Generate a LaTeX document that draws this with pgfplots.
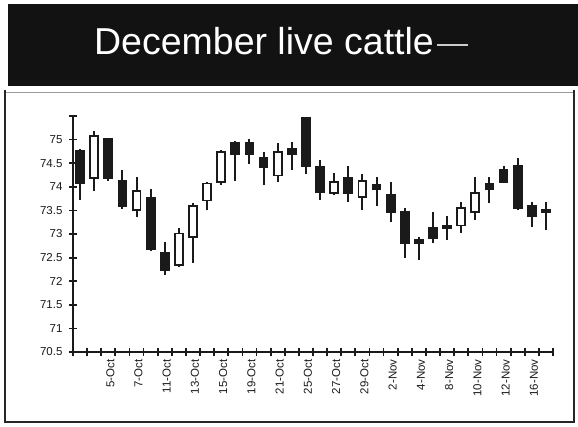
\documentclass[border=0pt]{standalone}
\usepackage{pgfplots}
\pgfplotsset{compat=1.18}
\usepackage{fontspec}
\setmainfont{Liberation Sans}
\definecolor{ink}{HTML}{1A1A1A}
\begin{document}
\begin{tikzpicture}[x=1pt,y=1pt]
\useasboundingbox (0,0) rectangle (578,426);
\fill[white] (0,0) rectangle (578,426);
\fill[black!93] (8,340) rectangle (578,422);
\node[white, font=\fontsize{37.5}{40}\selectfont, anchor=base] at (264,371) {December live cattle};
\draw[white!80!black, line width=2pt] (437,381) -- (468,381);
\draw[black!40, line width=0.8pt] (5,334) -- (574,334);
\draw[black!85, line width=2.2pt] (5,336) -- (5,4) -- (574,4) -- (574,336);
\begin{axis}[
  at={(73pt,74pt)}, anchor=south west,
  scale only axis, width=480pt, height=236pt,
  xmin=0.5, xmax=34.5, ymin=70.5, ymax=75.5,
  clip=false,
  axis x line*=bottom, axis y line*=left,
  axis line style={line width=2.4pt, ink},
  tick align=center, major tick length=8pt,
  tick style={line width=1.8pt, ink},
  xtick={0.5,1.5,...,34.5}, xticklabels={},
  extra x ticks={3,5,...,33},
  extra x tick labels={5-Oct,7-Oct,11-Oct,13-Oct,15-Oct,19-Oct,21-Oct,25-Oct,27-Oct,29-Oct,2-Nov,4-Nov,8-Nov,10-Nov,12-Nov,16-Nov},
  extra x tick style={tick style={draw=none}},
  xticklabel style={rotate=90, anchor=east, font=\fontsize{11.5}{13}\selectfont, text=ink, yshift=-2pt},
  ytick={70.5,71,71.5,72,72.5,73,73.5,74,74.5,75,75.5},
  yticklabels={70.5,71,71.5,72,72.5,73,73.5,74,74.5,75,{}},
  yticklabel style={font=\fontsize{11.5}{13}\selectfont, text=ink, xshift=-3pt},
  wick/.style={ink, line width=2pt, mark=none},
  dk/.style={draw=ink, fill=ink, line width=1.9pt, mark=none},
  hl/.style={draw=ink, fill=white, line width=1.9pt, mark=none},
]
% candle 1..34: wick (low..high), then body (min(open,close)..max(open,close)); dk = close<open, hl = close>open
\addplot[wick] coordinates {(1,73.71) (1,74.81)};
\addplot[dk] coordinates {(0.72,74.07) (1.28,74.07) (1.28,74.77) (0.72,74.77)} -- cycle;
\addplot[wick] coordinates {(2,73.92) (2,75.19)};
\addplot[hl] coordinates {(1.72,74.18) (2.28,74.18) (2.28,75.08) (1.72,75.08)} -- cycle;
\addplot[wick] coordinates {(3,74.13) (3,75.02)};
\addplot[dk] coordinates {(2.72,74.18) (3.28,74.18) (3.28,75.02) (2.72,75.02)} -- cycle;
\addplot[wick] coordinates {(4,73.54) (4,74.35)};
\addplot[dk] coordinates {(3.72,73.60) (4.28,73.60) (4.28,74.13) (3.72,74.13)} -- cycle;
\addplot[wick] coordinates {(5,73.35) (5,74.20)};
\addplot[hl] coordinates {(4.72,73.50) (5.28,73.50) (5.28,73.92) (4.72,73.92)} -- cycle;
\addplot[wick] coordinates {(6,72.65) (6,73.96)};
\addplot[dk] coordinates {(5.72,72.69) (6.28,72.69) (6.28,73.77) (5.72,73.77)} -- cycle;
\addplot[wick] coordinates {(7,72.13) (7,72.83)};
\addplot[dk] coordinates {(6.72,72.23) (7.28,72.23) (7.28,72.59) (6.72,72.59)} -- cycle;
\addplot[wick] coordinates {(8,72.30) (8,73.12)};
\addplot[hl] coordinates {(7.72,72.34) (8.28,72.34) (8.28,73.01) (7.72,73.01)} -- cycle;
\addplot[wick] coordinates {(9,72.38) (9,73.65)};
\addplot[hl] coordinates {(8.72,72.93) (9.28,72.93) (9.28,73.60) (8.72,73.60)} -- cycle;
\addplot[wick] coordinates {(10,73.50) (10,74.10)};
\addplot[hl] coordinates {(9.72,73.71) (10.28,73.71) (10.28,74.07) (9.72,74.07)} -- cycle;
\addplot[wick] coordinates {(11,74.03) (11,74.77)};
\addplot[hl] coordinates {(10.72,74.10) (11.28,74.10) (11.28,74.73) (10.72,74.73)} -- cycle;
\addplot[wick] coordinates {(12,74.13) (12,74.98)};
\addplot[dk] coordinates {(11.72,74.70) (12.28,74.70) (12.28,74.92) (11.72,74.92)} -- cycle;
\addplot[wick] coordinates {(13,74.49) (13,75.02)};
\addplot[dk] coordinates {(12.72,74.70) (13.28,74.70) (13.28,74.92) (12.72,74.92)} -- cycle;
\addplot[wick] coordinates {(14,74.03) (14,74.73)};
\addplot[dk] coordinates {(13.72,74.41) (14.28,74.41) (14.28,74.62) (13.72,74.62)} -- cycle;
\addplot[wick] coordinates {(15,74.10) (15,74.92)};
\addplot[hl] coordinates {(14.72,74.24) (15.28,74.24) (15.28,74.73) (14.72,74.73)} -- cycle;
\addplot[wick] coordinates {(16,74.35) (16,74.94)};
\addplot[dk] coordinates {(15.72,74.70) (16.28,74.70) (16.28,74.81) (15.72,74.81)} -- cycle;
\addplot[wick] coordinates {(17,74.28) (17,75.46)};
\addplot[dk] coordinates {(16.72,74.45) (17.28,74.45) (17.28,75.46) (16.72,75.46)} -- cycle;
\addplot[wick] coordinates {(18,73.71) (18,74.56)};
\addplot[dk] coordinates {(17.72,73.88) (18.28,73.88) (18.28,74.41) (17.72,74.41)} -- cycle;
\addplot[wick] coordinates {(19,73.82) (19,74.30)};
\addplot[hl] coordinates {(18.72,73.86) (19.28,73.86) (19.28,74.10) (18.72,74.10)} -- cycle;
\addplot[wick] coordinates {(20,73.67) (20,74.45)};
\addplot[dk] coordinates {(19.72,73.86) (20.28,73.86) (20.28,74.18) (19.72,74.18)} -- cycle;
\addplot[wick] coordinates {(21,73.50) (21,74.28)};
\addplot[hl] coordinates {(20.72,73.78) (21.28,73.78) (21.28,74.13) (20.72,74.13)} -- cycle;
\addplot[wick] coordinates {(22,73.60) (22,74.20)};
\addplot[dk] coordinates {(21.72,73.96) (22.28,73.96) (22.28,74.03) (21.72,74.03)} -- cycle;
\addplot[wick] coordinates {(23,73.25) (23,74.10)};
\addplot[dk] coordinates {(22.72,73.46) (23.28,73.46) (23.28,73.82) (22.72,73.82)} -- cycle;
\addplot[wick] coordinates {(24,72.49) (24,73.56)};
\addplot[dk] coordinates {(23.72,72.80) (24.28,72.80) (24.28,73.46) (23.72,73.46)} -- cycle;
\addplot[wick] coordinates {(25,72.44) (25,72.93)};
\addplot[dk] coordinates {(24.72,72.80) (25.28,72.80) (25.28,72.87) (24.72,72.87)} -- cycle;
\addplot[wick] coordinates {(26,72.80) (26,73.46)};
\addplot[dk] coordinates {(25.72,72.91) (26.28,72.91) (26.28,73.12) (25.72,73.12)} -- cycle;
\addplot[wick] coordinates {(27,72.87) (27,73.39)};
\addplot[dk] coordinates {(26.72,73.12) (27.28,73.12) (27.28,73.16) (26.72,73.16)} -- cycle;
\addplot[wick] coordinates {(28,73.03) (28,73.67)};
\addplot[hl] coordinates {(27.72,73.18) (28.28,73.18) (28.28,73.56) (27.72,73.56)} -- cycle;
\addplot[wick] coordinates {(29,73.29) (29,74.20)};
\addplot[hl] coordinates {(28.72,73.46) (29.28,73.46) (29.28,73.86) (28.72,73.86)} -- cycle;
\addplot[wick] coordinates {(30,73.65) (30,74.20)};
\addplot[dk] coordinates {(29.72,73.96) (30.28,73.96) (30.28,74.07) (29.72,74.07)} -- cycle;
\addplot[wick] coordinates {(31,74.07) (31,74.45)};
\addplot[dk] coordinates {(30.72,74.10) (31.28,74.10) (31.28,74.35) (30.72,74.35)} -- cycle;
\addplot[wick] coordinates {(32,73.50) (32,74.62)};
\addplot[dk] coordinates {(31.72,73.54) (32.28,73.54) (32.28,74.45) (31.72,74.45)} -- cycle;
\addplot[wick] coordinates {(33,73.14) (33,73.67)};
\addplot[dk] coordinates {(32.72,73.39) (33.28,73.39) (33.28,73.60) (32.72,73.60)} -- cycle;
\addplot[wick] coordinates {(34,73.08) (34,73.67)};
\addplot[dk] coordinates {(33.72,73.46) (34.28,73.46) (34.28,73.50) (33.72,73.50)} -- cycle;
\end{axis}
\end{tikzpicture}
\end{document}
